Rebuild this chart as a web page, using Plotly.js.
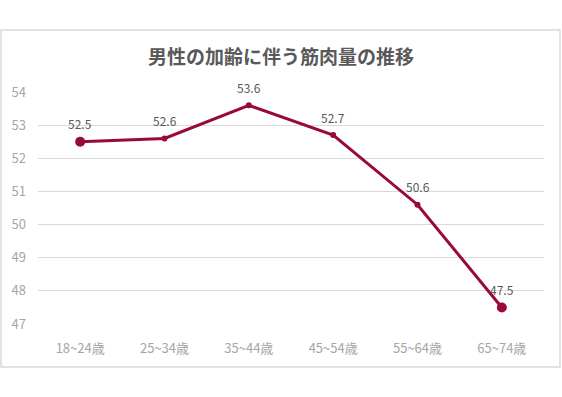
<!DOCTYPE html>
<html><head><meta charset="utf-8">
<script src="https://cdn.plot.ly/plotly-3.0.1.min.js"></script>
<style>html,body{margin:0;padding:0;background:#fff}</style>
</head><body><div id="chart" style="width:562px;height:397px"></div>
<script>
const categories = ["18~24歳","25~34歳","35~44歳","45~54歳","55~64歳","65~74歳"];
const muscleMass = [52.5, 52.6, 53.6, 52.7, 50.6, 47.5];
const yTicks = [47, 48, 49, 50, 51, 52, 53, 54];
const titleText = "男性の加齢に伴う筋肉量の推移";

const font = '"Noto Sans CJK JP", "Noto Sans", sans-serif';
const lineColor = '#990a38';
const trace = {
  x: categories, y: muscleMass, type: 'scatter', mode: 'lines+markers',
  line: {color: lineColor, width: 3},
  marker: {color: lineColor, opacity: 1, line: {width: 0},
           size: categories.map((c, i) => (i === 0 || i === categories.length - 1) ? 10 : 6)},
  cliponaxis: false, hoverinfo: 'none'
};
const annotations = categories.map((c, i) => ({
  x: c, y: muscleMass[i], xref: 'x', yref: 'y', text: muscleMass[i].toFixed(1),
  showarrow: false, yshift: 18, font: {family: font, size: 12, color: '#595959'}
}));
const layout = {
  width: 562, height: 397,
  margin: {l: 38, r: 18, t: 92, b: 73},
  paper_bgcolor: '#fff', plot_bgcolor: '#fff',
  showlegend: false,
  font: {family: font, color: '#a6a6a6', size: 13},
  title: {text: titleText, x: 0.5, xref: 'container', y: 1 - 57/397, yref: 'container', yanchor: 'middle',
          font: {family: font, size: 19, color: '#595959', weight: 'bold'}},
  xaxis: {type: 'category', range: [-0.5, 5.5], showgrid: false, zeroline: false, showline: false, ticks: '',
          ticklabelstandoff: 15, tickfont: {size: 13, color: '#a6a6a6'}, fixedrange: true},
  yaxis: {range: [47, 54], tickvals: yTicks, showgrid: true, gridcolor: '#d9d9d9', gridwidth: 1,
          zeroline: false, showline: false, ticks: '', ticklabelstandoff: 11,
          tickfont: {size: 13, color: '#a6a6a6'}, fixedrange: true},
  annotations: annotations,
  shapes: [{type: 'rect', xref: 'paper', yref: 'paper',
            x0: (1-38)/506, x1: (560-38)/506, y0: (324-367)/232, y1: (324-30)/232,
            line: {color: '#d9d9d9', width: 1.5}, fillcolor: 'rgba(0,0,0,0)', layer: 'below'}]
};
Plotly.newPlot('chart', [trace], layout, {displayModeBar: false, staticPlot: true});
</script></body></html>
